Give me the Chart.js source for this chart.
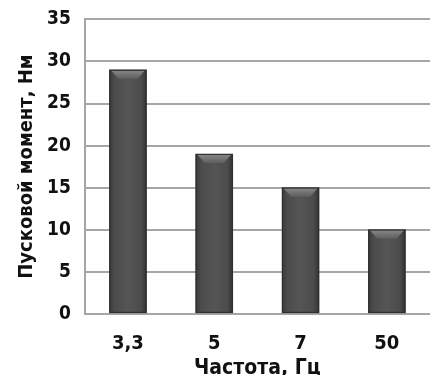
<!DOCTYPE html>
<html>
<head>
<meta charset="utf-8">
<script src="https://cdn.jsdelivr.net/npm/chart.js@4"></script>
<style>
  html, body { margin: 0; padding: 0; background: #fff; overflow: hidden; }
  #wrap { width: 430px; height: 375px; overflow: hidden; }
  #c { margin-top: -6px; display: block; }
</style>
</head>
<body>
<div id="wrap"><canvas id="c" width="430" height="381"></canvas></div>
<script>
const categories = ['3,3', '5', '7', '50'];
const torque = [29, 19, 15, 10];
const yTicks = [0, 5, 10, 15, 20, 25, 30, 35];

const FONT = '"DejaVu Sans Condensed", "Liberation Sans Narrow", "Liberation Sans", Arial, sans-serif';

// shading and bevelled top of each bar
const bevel = {
  id: 'bevel',
  afterDatasetsDraw(chart) {
    const ctx = chart.ctx;
    chart.getDatasetMeta(0).data.forEach(bar => {
      const w = bar.width, l = bar.x - w / 2, r = bar.x + w / 2;
      const t = bar.y, b = bar.base;
      const g = ctx.createLinearGradient(l, 0, r, 0);
      g.addColorStop(0, '#3a3a3a');
      g.addColorStop(0.15, '#4c4c4c');
      g.addColorStop(0.5, '#555555');
      g.addColorStop(0.85, '#4c4c4c');
      g.addColorStop(1, '#333333');
      ctx.save();
      ctx.fillStyle = g;
      ctx.fillRect(l, t, w, b - t);
      const h = 9;
      const tg = ctx.createLinearGradient(0, t, 0, t + h);
      tg.addColorStop(0, '#8a8a8a');
      tg.addColorStop(1, '#5e5e5e');
      ctx.fillStyle = tg;
      ctx.beginPath();
      ctx.moveTo(l + 1, t);
      ctx.lineTo(r - 1, t);
      ctx.lineTo(r - 9, t + h);
      ctx.lineTo(l + 9, t + h);
      ctx.closePath();
      ctx.fill();
      ctx.strokeStyle = '#2e2e2e';
      ctx.lineWidth = 1;
      ctx.strokeRect(l + 0.5, t + 0.5, w - 1, b - t - 1);
      ctx.restore();
    });
  }
};

new Chart(document.getElementById('c'), {
  type: 'bar',
  data: {
    labels: categories,
    datasets: [{
      data: torque,
      backgroundColor: '#4a4a4a',
      barThickness: 37
    }]
  },
  options: {
    responsive: false,
    animation: false,
    layout: { padding: { top: 0, right: -8, left: 15, bottom: -6 } },
    plugins: { legend: { display: false }, tooltip: { enabled: false } },
    scales: {
      x: {
        grid: { display: false },
        border: { color: '#a6a6a6', width: 2 },
        ticks: { color: '#111', font: { family: FONT, size: 20, weight: 'bold' }, padding: 10 },
        title: {
          display: true, text: 'Частота, Гц', color: '#111',
          font: { family: FONT, size: 21, weight: 'bold' }, padding: { top: -10, bottom: 0 }
        }
      },
      y: {
        min: 0, max: 35,
        afterBuildTicks(axis) { axis.ticks = yTicks.map(v => ({ value: v })); },
        grid: { color: '#a6a6a6', lineWidth: 2, drawTicks: false },
        border: { color: '#a6a6a6', width: 2 },
        ticks: { color: '#111', font: { family: FONT, size: 19, weight: 'bold' }, padding: 14 },
        title: {
          display: true, text: 'Пусковой момент, Нм', color: '#111',
          font: { family: FONT, size: 20, weight: 'bold' }, padding: { top: 0, bottom: -6 }
        }
      }
    }
  },
  plugins: [bevel]
});
</script>
</body>
</html>
